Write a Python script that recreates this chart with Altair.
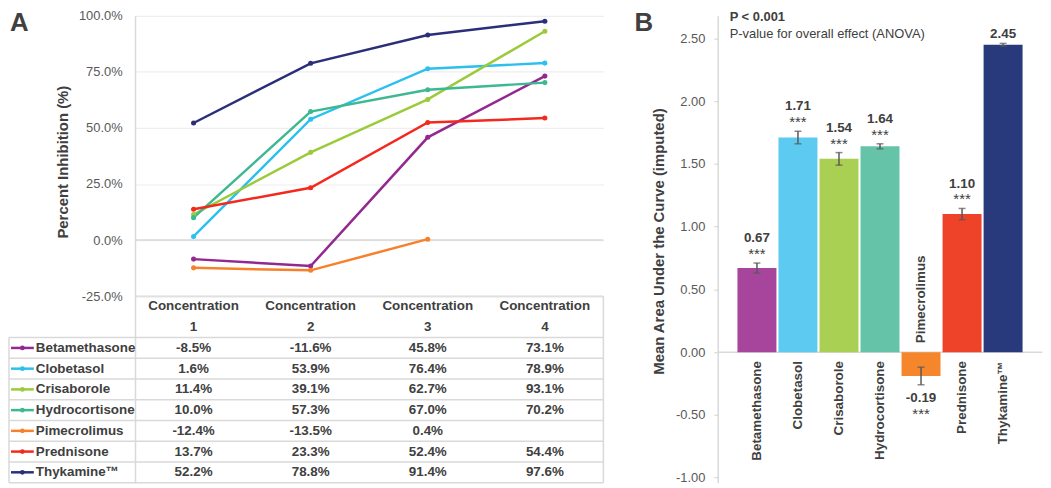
import altair as alt
import pandas as pd

# ---------------- data ----------------
conc = ["Concentration 1", "Concentration 2", "Concentration 3", "Concentration 4"]
drugs = ["Betamethasone", "Clobetasol", "Crisaborole", "Hydrocortisone",
         "Pimecrolimus", "Prednisone", "Thykamine\u2122"]

betamethasone = [-8.5, -11.6, 45.8, 73.1]
clobetasol = [1.6, 53.9, 76.4, 78.9]
crisaborole = [11.4, 39.1, 62.7, 93.1]
hydrocortisone = [10.0, 57.3, 67.0, 70.2]
pimecrolimus = [-12.4, -13.5, 0.4, None]
prednisone = [13.7, 23.3, 52.4, 54.4]
thykamine = [52.2, 78.8, 91.4, 97.6]

auc = [0.67, 1.71, 1.54, 1.64, -0.19, 1.10, 2.45]
auc_err = [0.04, 0.05, 0.05, 0.02, 0.07, 0.045, 0.01]
sig = ["***", "***", "***", "***", "***", "***", ""]

left_ticks = [-0.25, 0.0, 0.25, 0.50, 0.75, 1.00]
right_ticks = [-1.0, -0.5, 0.0, 0.5, 1.0, 1.5, 2.0, 2.5]

line_colors = ["#93298F", "#2BC0EE", "#9BCB3B", "#3DB893", "#F7812A", "#F4291E", "#2B2E78"]
bar_colors = ["#A6459B", "#5DCAF1", "#A9CF53", "#65C4A8", "#F5862C", "#EE4229", "#283A7B"]

# ---------------- tables ----------------
series = [betamethasone, clobetasol, crisaborole, hydrocortisone,
          pimecrolimus, prednisone, thykamine]
rows = []
for d, vals in zip(drugs, series):
    for c, v in zip(conc, vals):
        if v is not None:
            rows.append({"drug": d, "conc": c, "pct": v / 100.0, "lab": f"{v:.1f}%"})
inh = pd.DataFrame(rows)

hdr = []
for c in conc:
    word, num = c.rsplit(" ", 1)
    hdr.append({"conc": c, "row": "h1", "txt": word})
    hdr.append({"conc": c, "row": "h2", "txt": num})
hdr = pd.DataFrame(hdr)

drug_df = pd.DataFrame({"drug": drugs})
one = pd.DataFrame({"k": [0]})

bar_df = pd.DataFrame({"drug": drugs, "auc": auc, "err": auc_err, "sig": sig})
bar_df["lo"] = bar_df["auc"] - bar_df["err"]
bar_df["hi"] = bar_df["auc"] + bar_df["err"]
bar_df["vlab"] = [f"{v:.2f}" for v in auc]

# ---------------- geometry / style ----------------
FONT = "Liberation Sans"
DARK = "#404040"
MID = "#595959"
GRID = "#d9d9d9"
LW, LH, TH = 472, 282.5, 188        # line plot width/height, table height
H = LH + TH
NAMEW = 127
RW, RH = 327, H
RIGHT_X = 723                        # page x of the right plot's left edge
trows = ["h1", "h2"] + drugs
rowh = TH / len(trows)

# ---------------- left panel ----------------
xs = alt.Scale(type="point", domain=conc, padding=0.5)
span = 1.25 * H / LH
ys_left = alt.Scale(domain=[1.0 - span, 1.0], nice=False, zero=False)
ys_tab = alt.Scale(type="band", domain=trows, range=[LH, H], paddingInner=0, paddingOuter=0)
lcol = alt.Scale(domain=drugs, range=line_colors)

left_axis = alt.Axis(
    values=left_ticks,
    labelExpr="replace(format(datum.value, '.1%'), '\u2212', '-')",
    labelFontSize=13, labelColor=MID, labelPadding=13, ticks=False, tickSize=0,
    domain=True, domainColor=GRID, domainWidth=1.5,
    grid=True, gridColor="#eeeeee", gridWidth=1.2,
    title="Percent Inhibition (%)", titleFontSize=15, titleFontWeight="bold",
    titleColor=DARK, titleX=-73, titleY=147, titleBaseline="middle", titleAlign="center",
)

X_l = alt.X("conc:N", scale=xs, axis=None, sort=conc)
lines = alt.Chart(inh).mark_line(strokeWidth=2.5).encode(
    x=X_l, y=alt.Y("pct:Q", scale=ys_left, axis=left_axis),
    color=alt.Color("drug:N", scale=lcol, legend=None),
)
points = alt.Chart(inh).mark_circle(size=26, opacity=1).encode(
    x=X_l, y=alt.Y("pct:Q", scale=ys_left, axis=None),
    color=alt.Color("drug:N", scale=lcol, legend=None),
)
zero_l = alt.Chart(one).mark_rule(color=GRID, strokeWidth=1.5).encode(
    y=alt.Y(datum=0, scale=ys_left, axis=None)
)

Yt = lambda f, bp=0.5: alt.Y(f, scale=ys_tab, axis=None, bandPosition=bp)
rule_style = dict(color=GRID, strokeWidth=1.5)
row_lines = alt.Chart(drug_df).mark_rule(**rule_style).encode(
    y=Yt("drug:N", 0), x=alt.value(-NAMEW), x2=alt.value(LW))
bottom_line = alt.Chart(one).mark_rule(**rule_style).encode(
    y=alt.value(H), x=alt.value(-NAMEW), x2=alt.value(LW))
hdr_top = alt.Chart(one).mark_rule(**rule_style).encode(
    y=alt.value(LH), x=alt.value(0), x2=alt.value(LW))
right_line = alt.Chart(one).mark_rule(**rule_style).encode(
    x=alt.value(LW), y=alt.value(LH), y2=alt.value(H))
outer_left = alt.Chart(one).mark_rule(**rule_style).encode(
    x=alt.value(-NAMEW), y=alt.value(LH + 2 * rowh), y2=alt.value(H))

cell_txt = alt.Chart(inh).mark_text(fontSize=13.5, fontWeight="bold", color=DARK).encode(
    x=X_l, y=Yt("drug:N"), text="lab:N")
hdr_txt = alt.Chart(hdr).mark_text(fontSize=13.5, fontWeight="bold", color=DARK).encode(
    x=X_l, y=Yt("row:N"), text="txt:N")
name_txt = alt.Chart(drug_df).mark_text(fontSize=13.5, fontWeight="bold", color=DARK,
                                        align="left").encode(
    x=alt.value(-NAMEW + 27), y=Yt("drug:N"), text="drug:N")
leg_line = alt.Chart(drug_df).mark_rule(strokeWidth=2.5).encode(
    x=alt.value(-NAMEW + 2), x2=alt.value(-NAMEW + 25), y=Yt("drug:N"),
    color=alt.Color("drug:N", scale=lcol, legend=None))
leg_dot = alt.Chart(drug_df).mark_circle(size=22, opacity=1).encode(
    x=alt.value(-NAMEW + 13.5), y=Yt("drug:N"),
    color=alt.Color("drug:N", scale=lcol, legend=None))

label_a = alt.Chart(one).mark_text(text="A", fontSize=26, fontWeight="bold", color=DARK,
                                   align="left", baseline="alphabetic").encode(
    x=alt.value(-NAMEW + 1), y=alt.value(15))

left = alt.layer(
    zero_l, row_lines, bottom_line, hdr_top, right_line, outer_left,
    lines, points, cell_txt, hdr_txt, name_txt, leg_line, leg_dot, label_a,
).resolve_scale(y="independent").properties(width=LW, height=H)

# ---------------- right panel ----------------
xb = alt.Scale(type="band", domain=drugs, paddingInner=0.05, paddingOuter=0.48)
yb = alt.Scale(domain=[-1.04, 2.68], nice=False, zero=False)
bcol = alt.Scale(domain=drugs, range=bar_colors)

right_axis = alt.Axis(
    values=right_ticks,
    labelExpr="replace(format(datum.value, '.2f'), '\u2212', '-')",
    labelFontSize=13, labelColor=MID, labelPadding=9, tickSize=4, tickColor=GRID,
    tickWidth=1.2, domain=True, domainColor=GRID, domainWidth=1.5, grid=False,
    title="Mean Area Under the Curve (imputed)", titleFontSize=15, titleFontWeight="bold",
    titleColor=DARK, titleX=-60, titleY=227, titleBaseline="middle", titleAlign="center",
)

Xb = alt.X("drug:N", scale=xb, axis=None, sort=drugs)
Xc = alt.X("drug:N", scale=xb, axis=None, sort=drugs, bandPosition=0.5)

zero_r = alt.Chart(one).mark_rule(color=GRID, strokeWidth=1.5).encode(y=alt.Y(datum=0, scale=yb))
bars = alt.Chart(bar_df).mark_bar().encode(
    x=Xb, y=alt.Y("auc:Q", scale=yb, axis=right_axis),
    color=alt.Color("drug:N", scale=bcol, legend=None))
err_rule = alt.Chart(bar_df).mark_rule(color=MID, strokeWidth=1.5).encode(
    x=Xc, y=alt.Y("lo:Q", scale=yb), y2="hi:Q")
cap_lo = alt.Chart(bar_df).mark_tick(color=MID, thickness=1.5, size=7).encode(
    x=Xb, y=alt.Y("lo:Q", scale=yb))
cap_hi = alt.Chart(bar_df).mark_tick(color=MID, thickness=1.5, size=7).encode(
    x=Xb, y=alt.Y("hi:Q", scale=yb))

vstyle = dict(fontSize=13.5, fontWeight="bold", color=DARK, baseline="alphabetic")
sstyle = dict(fontSize=15, color=DARK, baseline="alphabetic")
v_pos = alt.Chart(bar_df).transform_filter("datum.auc >= 0 && datum.sig != ''").mark_text(
    dy=-21, **vstyle).encode(x=Xc, y=alt.Y("hi:Q", scale=yb), text="vlab:N")
v_pos2 = alt.Chart(bar_df).transform_filter("datum.auc >= 0 && datum.sig == ''").mark_text(
    dy=-5, **vstyle).encode(x=Xc, y=alt.Y("hi:Q", scale=yb), text="vlab:N")
v_neg = alt.Chart(bar_df).transform_filter("datum.auc < 0").mark_text(
    dy=17, **vstyle).encode(x=Xc, y=alt.Y("lo:Q", scale=yb), text="vlab:N")
s_pos = alt.Chart(bar_df).transform_filter("datum.auc >= 0 && datum.sig != ''").mark_text(
    dy=-4, **sstyle).encode(x=Xc, y=alt.Y("hi:Q", scale=yb), text="sig:N")
s_neg = alt.Chart(bar_df).transform_filter("datum.auc < 0").mark_text(
    dy=34, **sstyle).encode(x=Xc, y=alt.Y("lo:Q", scale=yb), text="sig:N")

nstyle = dict(fontSize=13.5, fontWeight="bold", color=DARK, angle=270, baseline="middle")
n_pos = alt.Chart(bar_df).transform_filter("datum.auc >= 0").mark_text(
    align="right", dx=-9, **nstyle).encode(x=Xc, y=alt.Y(datum=0, scale=yb), text="drug:N")
n_neg = alt.Chart(bar_df).transform_filter("datum.auc < 0").mark_text(
    align="left", dx=9, **nstyle).encode(x=Xc, y=alt.Y(datum=0, scale=yb), text="drug:N")

label_b = alt.Chart(one).mark_text(text="B", fontSize=26, fontWeight="bold", color=DARK,
                                   align="left", baseline="alphabetic").encode(
    x=alt.value(-84), y=alt.value(15))
p1 = alt.Chart(one).mark_text(text="P < 0.001", fontSize=13, fontWeight="bold", color=DARK,
                              align="left", baseline="alphabetic").encode(
    x=alt.value(12), y=alt.value(5))
p2 = alt.Chart(one).mark_text(text="P-value for overall effect (ANOVA)", fontSize=13,
                              color=DARK, align="left", baseline="alphabetic").encode(
    x=alt.value(12), y=alt.value(22))

right = alt.layer(
    zero_r, bars, err_rule, cap_lo, cap_hi, v_pos, v_pos2, v_neg, s_pos, s_neg,
    n_pos, n_neg, label_b, p1, p2,
).properties(width=RW, height=RH)

left_origin = 8 + NAMEW + 0.75
chart = alt.hconcat(left, right, spacing=RIGHT_X - left_origin - LW, bounds="flush").resolve_scale(
    x="independent", y="independent", color="independent"
).properties(
    padding={"left": 0, "top": 0, "right": 0, "bottom": 0}
).configure(font=FONT).configure_view(strokeWidth=0)

chart.save("out.html", embed_options={"renderer": "svg", "actions": False})
